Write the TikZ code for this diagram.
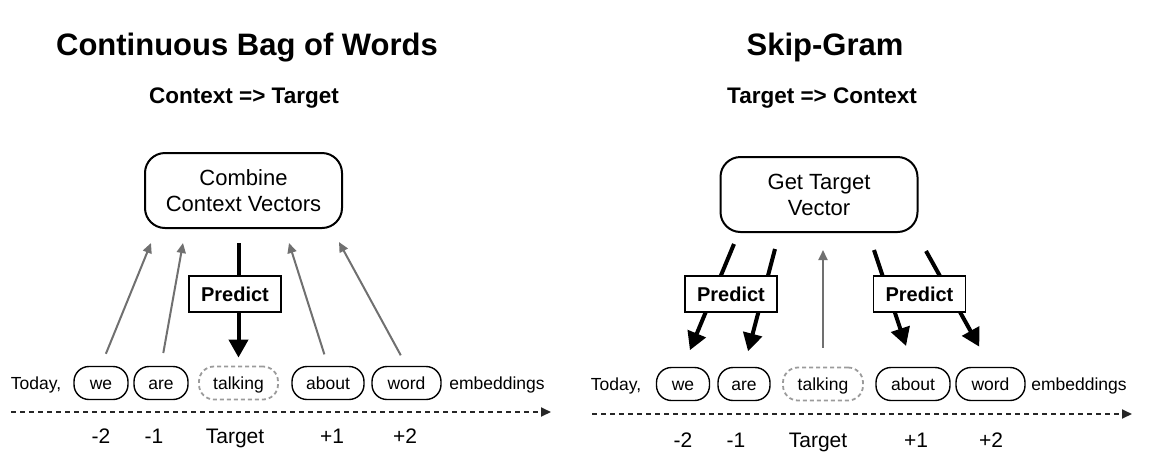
\documentclass[tikz,border=0pt]{standalone}
\usepackage{fontspec}
\setmainfont{Liberation Sans}
\usetikzlibrary{arrows.meta, positioning}
\definecolor{ctxgray}{RGB}{112,112,112}
\definecolor{dashgray}{RGB}{155,155,155}

\begin{document}
\begin{tikzpicture}[
    x=1pt, y=-1pt,
    title/.style={anchor=base, font=\fontsize{31}{37}\selectfont\bfseries},
    subtitle/.style={anchor=base, font=\fontsize{22.5}{27}\selectfont\bfseries},
    vecbox/.style={rectangle, draw, line width=2pt, rounded corners=20pt, minimum width=197pt, minimum height=75pt, align=center, font=\fontsize{22}{26}\selectfont},
    word/.style={rectangle, draw, line width=1.4pt, rounded corners=15pt, minimum height=33pt, inner sep=0pt, text height=12.5pt, text depth=0pt, font=\fontsize{17.5}{20}\selectfont},
    targetword/.style={word, draw=dashgray, line width=1.8pt, dash pattern=on 4pt off 3pt},
    plain/.style={inner sep=0pt, text height=12.5pt, text depth=0pt, font=\fontsize{17.5}{20}\selectfont},
    offsetlbl/.style={inner sep=0pt, text height=15pt, text depth=0pt, font=\fontsize{21}{25}\selectfont},
    predict/.style={rectangle, draw, line width=1.2pt, fill=white, minimum width=92pt, minimum height=36pt, inner sep=0pt, text height=14.5pt, text depth=0pt, font=\fontsize{20}{24}\selectfont\bfseries},
    ctx/.style={-{Triangle[length=10pt,width=9pt]}, draw=ctxgray, line width=2pt},
    pred/.style={-{Triangle[length=18pt,width=19pt]}, line width=4pt},
    axis/.style={-{Triangle[length=10pt,width=9pt]}, draw=black!85, line width=1.8pt, dash pattern=on 5pt off 4pt}
]
    \useasboundingbox (0,0) rectangle (1154,475);

    % ---------------- CBOW ----------------
    \node[title] (cbowtitle) at (247,55) {Continuous Bag of Words};
    \node[subtitle] (cbowsub) at (244,103) {Context => Target};
    \node[vecbox] (combine) at (243.5,190.5) {Combine\\Context Vectors};

    % Sentence
    \node[plain] (todayL) at (36,383) {Today,};
    \node[word, minimum width=54pt] (weL) at (101,383) {we};
    \node[word, minimum width=54pt] (areL) at (161,383) {are};
    \node[targetword, minimum width=79pt] (talkL) at (238.5,383) {talking};
    \node[word, minimum width=72pt] (aboutL) at (328,383) {about};
    \node[word, minimum width=69pt] (wordL) at (406.5,383) {word};
    \node[plain] (embL) at (497,383) {embeddings};

    % Positions
    \coordinate (axL0) at (11,412);
    \coordinate (axL1) at (551,412);
    \draw[axis] (axL0) -- (axL1);
    \node[offsetlbl] (mtwoL) at (101,436) {-2};
    \node[offsetlbl] (moneL) at (154,436) {-1};
    \node[offsetlbl] (tgtL) at (235,436) {Target};
    \node[offsetlbl] (poneL) at (332,436) {+1};
    \node[offsetlbl] (ptwoL) at (405,436) {+2};

    % Arrows
    \coordinate (inA) at (151,243);
    \coordinate (inB) at (183,243);
    \coordinate (inC) at (289,243);
    \coordinate (inD) at (339,242);
    \coordinate (outL) at (238.5,243);
    \draw[ctx, shorten <=13pt] (weL.north) -- (inA);
    \draw[ctx, shorten <=13pt] (areL.north) -- (inB);
    \draw[ctx, shorten <=12pt] (aboutL.north) -- (inC);
    \draw[ctx, shorten <=12pt] (wordL.north) -- (inD);
    \draw[pred, shorten >=8pt] (outL) -- (talkL.north);
    \node[predict] (predL) at (235,294) {Predict};

    % ---------------- Skip-Gram ----------------
    \node[title] (sgtitle) at (825,55) {Skip-Gram};
    \node[subtitle] (sgsub) at (822,103) {Target => Context};
    \node[vecbox] (gettarget) at (819,194.5) {Get Target\\Vector};

    % Sentence
    \node[plain] (todayR) at (616,384) {Today,};
    \node[word, minimum width=53pt] (weR) at (683,384) {we};
    \node[word, minimum width=52pt] (areR) at (744,384) {are};
    \node[targetword, minimum width=80pt] (talkR) at (823,384) {talking};
    \node[word, minimum width=74pt] (aboutR) at (913,384) {about};
    \node[word, minimum width=69pt] (wordR) at (990.5,384) {word};
    \node[plain] (embR) at (1079,384) {embeddings};

    % Positions
    \coordinate (axR0) at (592,414);
    \coordinate (axR1) at (1132,414);
    \draw[axis] (axR0) -- (axR1);
    \node[offsetlbl] (mtwoR) at (683,440) {-2};
    \node[offsetlbl] (moneR) at (736,440) {-1};
    \node[offsetlbl] (tgtR) at (818,440) {Target};
    \node[offsetlbl] (poneR) at (916,440) {+1};
    \node[offsetlbl] (ptwoR) at (991,440) {+2};

    % Arrows
    \coordinate (srcA) at (734,244);
    \coordinate (srcB) at (775,249);
    \coordinate (srcC) at (874,250);
    \coordinate (srcD) at (926,251);
    \coordinate (inR) at (823,250);
    \draw[pred, shorten >=18pt] (srcA) -- (weR.north);
    \draw[pred, shorten >=16pt] (srcB) -- (areR.north);
    \draw[pred, shorten >=22pt] (srcC) -- (aboutR.north);
    \draw[pred, shorten >=23pt] (srcD) -- (wordR.north);
    \draw[ctx, shorten <=19pt] (talkR.north) -- (inR);
    \node[predict] (predRa) at (731,294) {Predict};
    \node[predict] (predRb) at (919.5,294) {Predict};
\end{tikzpicture}
\end{document}
